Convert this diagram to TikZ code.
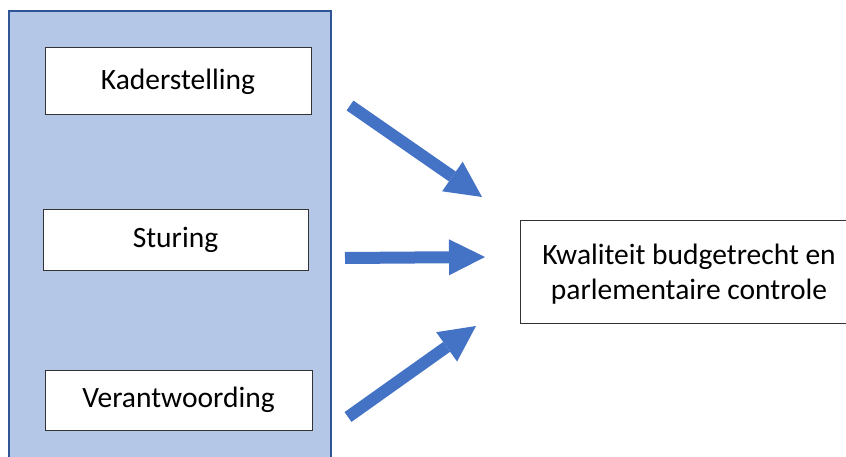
\documentclass[tikz,border=0pt]{standalone}
\usepackage{fontspec}
\setmainfont{Carlito}
\usetikzlibrary{arrows.meta}
\definecolor{paneelblauw}{HTML}{B4C7E7}
\definecolor{randblauw}{HTML}{2F5597}
\definecolor{pijlblauw}{HTML}{4472C4}

\begin{document}
\begin{tikzpicture}[x=1pt, y=-1pt, font=\fontsize{29.5}{35}\selectfont,
    box/.style={draw=black!80, line width=1pt, fill=white, align=center, inner sep=0pt},
    pijl/.style={color=pijlblauw, line width=12pt, -{Triangle[length=36pt, width=36pt, line width=0pt]}}]

    \useasboundingbox (0,0) rectangle (846,457);
    \clip (0,0) rectangle (846,457);

    \node [draw=randblauw, line width=2pt, fill=paneelblauw, minimum width=322pt, minimum height=470pt, inner sep=0pt] (paneel) at (170,246) {};
    \node [box, minimum width=266pt, minimum height=67pt] (kader) at (178,81.5) {Kaderstelling};
    \node [box, minimum width=265pt, minimum height=60pt] (sturing) at (175.5,240) {Sturing};
    \node [box, minimum width=267pt, minimum height=60pt] (verantw) at (178.5,400) {Verantwoording};
    \node [box, minimum width=340pt, minimum height=102pt, anchor=west] (kwal) at (520,272) {};
    \node [align=center] (kwaltekst) at (689,274) {Kwaliteit budgetrecht en\\parlementaire controle};

    \coordinate (k1) at (350,105.5);
    \coordinate (k2) at (482,197);
    \coordinate (s1) at (345,258);
    \coordinate (s2) at (485,257);
    \coordinate (v1) at (348,417);
    \coordinate (v2) at (476,326);

 \path[pijl]
      (k1) edge (k2)
      (s1) edge (s2)
      (v1) edge (v2);
\end{tikzpicture}
\end{document}
